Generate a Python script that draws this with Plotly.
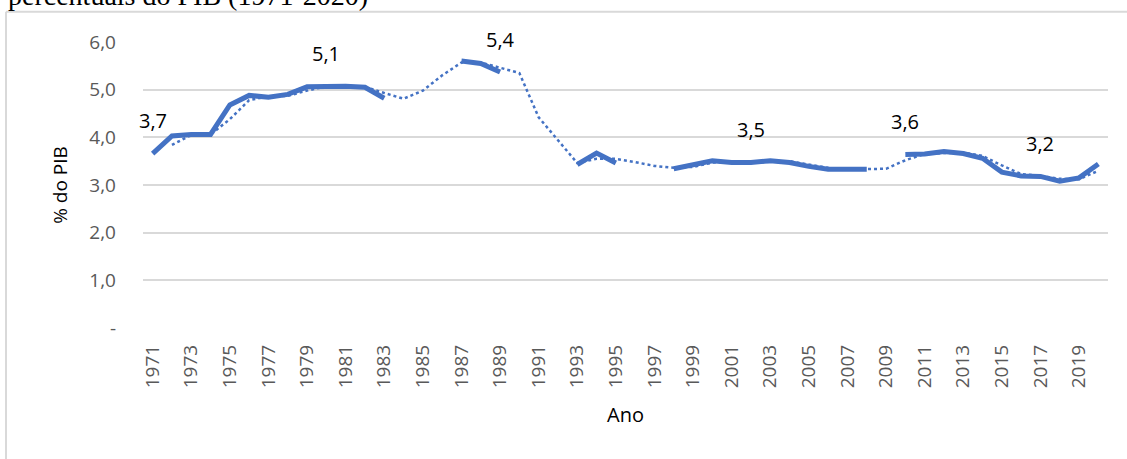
import plotly.graph_objects as go

anos = list(range(1971, 2021))

# Série observada (None = ano sem dado -> lacuna na linha)
despesa = [3.66, 4.03, 4.06, 4.06, 4.68, 4.88, 4.84, 4.90, 5.06, 5.07,
           5.07, 5.05, 4.82, None, None, None, 5.60, 5.55, 5.37, None,
           None, None, 3.43, 3.67, 3.46, None, None, 3.34, 3.42, 3.51,
           3.47, 3.47, 3.51, 3.47, 3.39, 3.33, 3.33, 3.33, None, 3.64,
           3.65, 3.70, 3.66, 3.56, 3.27, 3.19, 3.18, 3.08, 3.15, 3.44]

# Linha pontilhada (média móvel de 2 períodos)
media_movel = [None, 3.84, 4.05, 4.06, 4.38, 4.78, 4.86, 4.87, 4.98, 5.07,
               5.07, 5.06, 4.93, 4.81, 4.98, 5.30, 5.57, 5.57, 5.46, 5.35,
               4.42, 3.93, 3.46, 3.55, 3.55, 3.48, 3.40, 3.36, 3.38, 3.47,
               3.49, 3.46, 3.49, 3.50, 3.43, 3.36, 3.33, 3.33, 3.34, 3.52,
               3.65, 3.67, 3.68, 3.61, 3.41, 3.23, 3.19, 3.13, 3.12, 3.30]

anos_rotulo = [1971, 1980, 1989, 2002, 2010, 2017]

ytick_vals = [0, 1, 2, 3, 4, 5, 6]
ytick_text = ["-", "1,0", "2,0", "3,0", "4,0", "5,0", "6,0"]
xtick_vals = list(range(1971, 2021, 2))

AZUL = "#4472C4"
CINZA = "#d9d9d9"

fig = go.Figure()
fig.add_trace(go.Scatter(x=anos, y=media_movel, mode="lines",
                         line=dict(color=AZUL, width=2.5, dash="dot"),
                         connectgaps=False, showlegend=False, hoverinfo="skip"))
fig.add_trace(go.Scatter(x=anos, y=despesa, mode="lines",
                         line=dict(color=AZUL, width=5),
                         connectgaps=False, showlegend=False))

for a in anos_rotulo:
    v = despesa[anos.index(a)]
    fig.add_annotation(x=a, y=v, text=f"{v:.1f}".replace(".", ","),
                       showarrow=False, yshift=33,
                       font=dict(family="Open Sans", size=20, color="#000000"))

# Plot area in pixels: x 143..1108, y 42..328.5
L, R, T, B = 143, 1108, 42.3, 328.5
W, H = R - L, B - T

def px(x):
    return (x - L) / W

def py(y):
    return (B - y) / H

# Frame of the chart (light gray border on top and left)
fig.add_shape(type="line", xref="paper", yref="paper", x0=px(6), x1=px(1127),
              y0=py(12), y1=py(12), line=dict(color=CINZA, width=2))
fig.add_shape(type="line", xref="paper", yref="paper", x0=px(6), x1=px(6),
              y0=py(12), y1=py(470), line=dict(color=CINZA, width=2))

# Cropped title from the document above the chart
fig.add_annotation(xref="paper", yref="paper", x=px(6), y=py(13),
                   xanchor="left", yanchor="bottom", showarrow=False,
                   text="percentuais do PIB (1971-2020)",
                   font=dict(family="Liberation Serif", size=28, color="#000000"))

fig.update_layout(
    width=1127, height=459,
    margin=dict(l=L, r=1127 - R, t=T, b=459 - B, autoexpand=False),
    paper_bgcolor="white", plot_bgcolor="white",
    font=dict(family="Open Sans", color="#595959"),
    xaxis=dict(range=[1970.5, 2020.5], tickmode="array", tickvals=xtick_vals,
               ticktext=[str(v) for v in xtick_vals], tickangle=-90,
               tickfont=dict(size=19, color="#595959"), showgrid=False,
               zeroline=False, showline=False, ticks="", automargin=False,
               ticklabelstandoff=12,
               title=dict(text="Ano", font=dict(size=20, color="#000000"), standoff=20)),
    yaxis=dict(range=[0, 6], tickmode="array", tickvals=ytick_vals, ticktext=ytick_text,
               tickfont=dict(size=19, color="#595959"), showgrid=True,
               gridcolor=CINZA, gridwidth=2, zeroline=False, showline=False,
               ticks="", ticklabelstandoff=26, automargin=False,
               title=dict(text="% do PIB", font=dict(size=19, color="#000000"), standoff=16)),
)

fig.write_html("out.html", config={"displayModeBar": False},
               post_script="document.body.style.margin='0';")
